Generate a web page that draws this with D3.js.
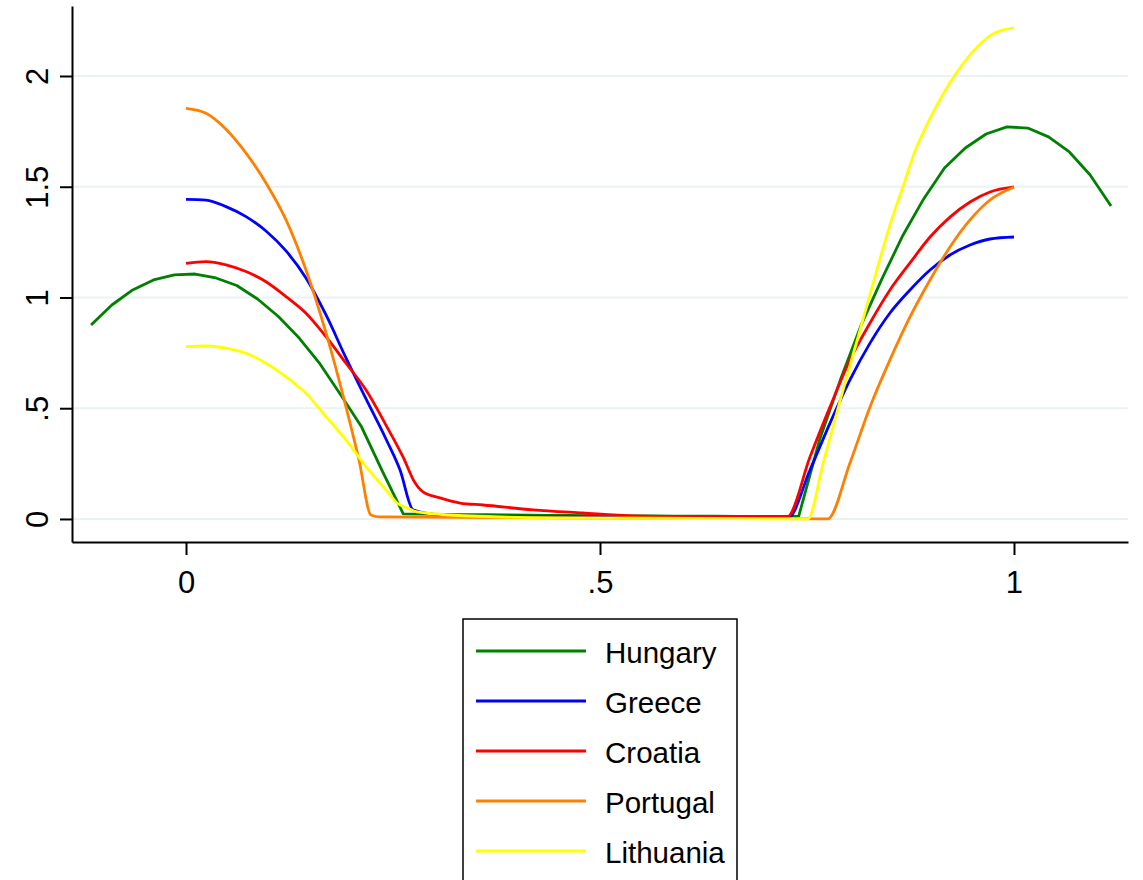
<!DOCTYPE html>
<html>
<head>
<meta charset="utf-8">
<script src="https://cdn.jsdelivr.net/npm/d3@7"></script>
<style>
  body { margin: 0; background: #fff; }
  svg { display: block; font-family: "Liberation Sans", Arial, sans-serif; }
</style>
</head>
<body>
<svg id="chart" width="1143" height="880"></svg>
<script>
const countries = ['Hungary', 'Greece', 'Croatia', 'Portugal', 'Lithuania'];
const colors = ['#008000', '#0000ff', '#ff0000', '#ff7f00', '#ffff00'];

// Hungary: 50 evaluation points from -0.1147 to 1.117
const hungaryX0 = -0.1147;
const hungaryStep = 0.02514;
const hungaryY = [
    0.876, 0.966, 1.034, 1.079, 1.102, 1.106, 1.088, 1.054, 0.993, 0.914,
    0.817, 0.700, 0.560, 0.415, 0.215, 0.023, 0.022, 0.021, 0.020, 0.019,
    0.018, 0.017, 0.016, 0.016, 0.015, 0.015, 0.014, 0.014, 0.013, 0.013,
    0.013, 0.012, 0.012, 0.012, 0.013, 0.357, 0.628, 0.876, 1.085, 1.280,
    1.445, 1.585, 1.675, 1.738, 1.770, 1.765, 1.725, 1.657, 1.553, 1.413
];

const greeceX = [0, 0.0242, 0.0483, 0.0725, 0.0966, 0.1208, 0.1449, 0.1691, 0.1932, 0.2174, 0.2415, 0.2585, 0.2742, 0.295, 0.331, 0.44, 0.62, 0.727, 0.7536, 0.7778, 0.8019, 0.8261, 0.8502, 0.8744, 0.8986, 0.9227, 0.9469, 0.971, 1.0];
const greeceY = [1.443, 1.440, 1.410, 1.365, 1.300, 1.210, 1.088, 0.921, 0.727, 0.542, 0.361, 0.221, 0.041, 0.023, 0.014, 0.009, 0.006, 0.005, 0.221, 0.433, 0.628, 0.794, 0.930, 1.034, 1.124, 1.192, 1.237, 1.264, 1.273];

const croatiaX = [0, 0.0242, 0.0483, 0.0725, 0.0966, 0.1208, 0.1449, 0.1691, 0.1932, 0.2174, 0.2415, 0.2621, 0.2766, 0.2862, 0.3068, 0.331, 0.359, 0.419, 0.479, 0.540, 0.621, 0.726, 0.7536, 0.7778, 0.8019, 0.8261, 0.8502, 0.8744, 0.8986, 0.9227, 0.9469, 0.971, 1.0];
const croatiaY = [1.154, 1.162, 1.147, 1.117, 1.071, 1.004, 0.929, 0.823, 0.703, 0.582, 0.424, 0.280, 0.163, 0.122, 0.095, 0.072, 0.063, 0.041, 0.027, 0.014, 0.009, 0.009, 0.280, 0.506, 0.718, 0.885, 1.034, 1.156, 1.273, 1.363, 1.431, 1.476, 1.499];

const portugalX = [0, 0.0242, 0.0483, 0.0725, 0.0966, 0.1208, 0.1449, 0.1691, 0.1932, 0.2089, 0.2234, 0.234, 0.45, 0.65, 0.775, 0.8019, 0.8261, 0.8502, 0.8744, 0.8986, 0.9227, 0.9469, 0.971, 1.0];
const portugalY = [1.854, 1.832, 1.760, 1.652, 1.517, 1.350, 1.124, 0.840, 0.506, 0.266, 0.018, 0.009, 0.005, 0.002, 0.0, 0.253, 0.506, 0.718, 0.912, 1.079, 1.228, 1.350, 1.440, 1.499];

const lithuaniaX = [0, 0.0242, 0.0483, 0.0725, 0.0966, 0.1208, 0.1449, 0.1691, 0.1932, 0.2174, 0.2415, 0.2548, 0.267, 0.279, 0.319, 0.44, 0.62, 0.751, 0.7693, 0.7899, 0.8104, 0.8297, 0.8502, 0.8659, 0.8804, 0.8949, 0.9227, 0.9505, 0.9746, 1.0];
const lithuaniaY = [0.778, 0.781, 0.771, 0.748, 0.703, 0.642, 0.567, 0.462, 0.357, 0.236, 0.131, 0.072, 0.050, 0.032, 0.018, 0.005, 0.002, 0.0, 0.248, 0.533, 0.804, 1.061, 1.327, 1.500, 1.660, 1.780, 1.970, 2.110, 2.190, 2.217];

const xTicks = [0, 0.5, 1];
const xTickLabels = ['0', '.5', '1'];
const yTicks = [0, 0.5, 1, 1.5, 2];
const yTickLabels = ['0', '.5', '1', '1.5', '2'];

const zip = (xs, ys) => xs.map((x, i) => ({ x: x, y: ys[i] }));

const series = [
    { points: hungaryY.map((y, i) => ({ x: hungaryX0 + hungaryStep * i, y: y })), curve: d3.curveLinear },
    { points: zip(greeceX, greeceY), curve: d3.curveMonotoneX },
    { points: zip(croatiaX, croatiaY), curve: d3.curveMonotoneX },
    { points: zip(portugalX, portugalY), curve: d3.curveMonotoneX },
    { points: zip(lithuaniaX, lithuaniaY), curve: d3.curveMonotoneX },
];

const svg = d3.select('#chart');
const plotLeft = 72, plotRight = 1128, plotTop = 6, plotBottom = 542;

const xs = d3.scaleLinear().domain([-0.1377, 1.1377]).range([plotLeft, plotRight]);
const ys = d3.scaleLinear().domain([-0.104, 2.316]).range([plotBottom, plotTop]);

// gridlines
svg.append('g')
    .selectAll('line')
    .data(yTicks)
    .enter()
    .append('line')
    .attr('x1', plotLeft)
    .attr('x2', plotRight)
    .attr('y1', d => ys(d))
    .attr('y2', d => ys(d))
    .attr('stroke', '#eaf2f3')
    .attr('stroke-width', 2);

// lines
const line = d3.line().x(d => xs(d.x)).y(d => ys(d.y));
svg.append('g')
    .selectAll('path')
    .data(series)
    .enter()
    .append('path')
    .attr('fill', 'none')
    .attr('stroke', (d, i) => colors[i])
    .attr('stroke-width', 2.8)
    .attr('stroke-linejoin', 'round')
    .attr('d', d => line.curve(d.curve)(d.points));

// y axis
const yAxis = svg.append('g')
    .attr('transform', `translate(${plotLeft},0)`)
    .call(d3.axisLeft(ys).tickValues(yTicks).tickFormat((d, i) => yTickLabels[i]).tickSize(12).tickSizeOuter(0));
yAxis.select('.domain').attr('stroke-width', 2);
yAxis.selectAll('.tick line').attr('stroke-width', 2);
yAxis.selectAll('.tick text')
    .attr('x', null).attr('dy', null)
    .attr('text-anchor', 'middle')
    .attr('transform', 'translate(-24,0) rotate(-90)')
    .attr('font-size', 31)
    .attr('fill', '#000');

// x axis
const xAxis = svg.append('g')
    .attr('transform', `translate(0,${plotBottom})`)
    .call(d3.axisBottom(xs).tickValues(xTicks).tickFormat((d, i) => xTickLabels[i]).tickSize(13).tickSizeOuter(0));
xAxis.select('.domain').attr('stroke-width', 2);
xAxis.selectAll('.tick line').attr('stroke-width', 2);
xAxis.selectAll('.tick text')
    .attr('y', 51).attr('dy', null)
    .attr('font-size', 31)
    .attr('fill', '#000');

// legend
const legend = svg.append('g').attr('transform', 'translate(463,619)');
legend.append('rect')
    .attr('x', 0).attr('y', 0)
    .attr('width', 274).attr('height', 300)
    .attr('fill', '#fff')
    .attr('stroke', '#000')
    .attr('stroke-width', 1.5);
const items = legend.selectAll('g.item')
    .data(countries)
    .enter()
    .append('g')
    .attr('transform', (d, i) => `translate(0,${32 + i * 50})`);
items.append('line')
    .attr('x1', 13).attr('x2', 123)
    .attr('stroke', (d, i) => colors[i])
    .attr('stroke-width', 2.8);
items.append('text')
    .attr('x', 142)
    .attr('y', 12)
    .attr('font-size', 29.5)
    .text(d => d);
</script>
</body>
</html>
